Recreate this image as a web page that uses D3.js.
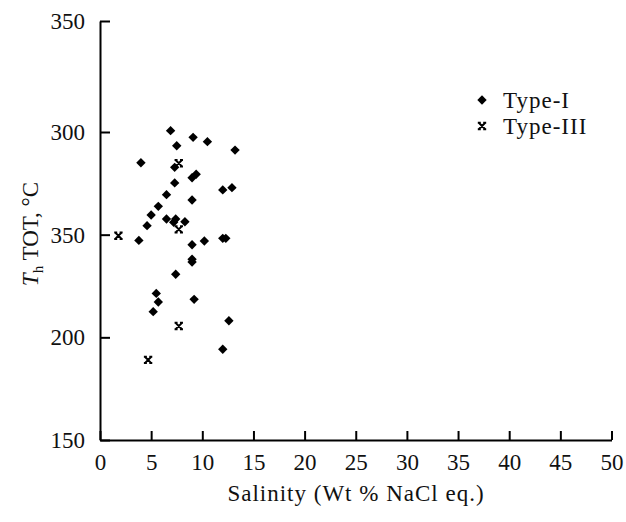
<!DOCTYPE html>
<html>
<head>
<meta charset="utf-8">
<script src="https://cdn.jsdelivr.net/npm/d3@7"></script>
<style>
  html, body { margin: 0; padding: 0; background: #fff; }
  svg text { font-family: 'Liberation Serif', 'Times New Roman', Tinos, 'DejaVu Serif', serif !important; }
</style>
</head>
<body>
<svg id="chart" width="626" height="522"></svg>
<script>
// ---- data ----
const typeISalinity = [6.9, 9.1, 10.5, 7.5, 13.2, 4.0, 7.3, 9.4, 9.0, 7.3, 12.0, 12.9, 6.5, 9.0, 5.7, 5.0, 6.5, 7.4, 7.2, 8.3, 4.6, 3.8, 9.0, 10.2, 12.0, 12.3, 9.0, 9.0, 7.4, 5.5, 5.7, 9.2, 5.2, 12.6, 12.0];
const typeITemp     = [300.6, 297.4, 295.3, 293.3, 291.2, 285.0, 282.8, 279.4, 277.7, 275.2, 271.8, 272.9, 269.5, 266.9, 263.8, 259.6, 257.6, 257.6, 256.0, 256.3, 254.4, 247.2, 245.1, 246.9, 248.2, 248.2, 238.0, 236.7, 230.7, 221.4, 217.2, 218.5, 212.5, 208.1, 194.2];
const typeIIISalinity = [7.7, 7.7, 1.8, 7.7, 4.7];
const typeIIITemp     = [284.8, 252.6, 249.5, 205.5, 189.0];

const xTicks = [0, 5, 10, 15, 20, 25, 30, 35, 40, 45, 50];
const yTicks = [150, 200, 250, 300, 350];
const yTickLabels = ["150", "200", "350", "300", "350"];
const seriesNames = ["Type-I", "Type-III"];

// ---- layout ----
const FONT = "'Liberation Serif', 'Times New Roman', Tinos, 'DejaVu Serif', serif";
const svg = d3.select("#chart");
const x = d3.scaleLinear().domain([0, 50]).range([100, 611.5]);
const y = d3.scaleLinear().domain([150, 300, 350]).range([440, 132, 21]);

const axisColor = "#000";

// y axis
const yAxis = d3.axisLeft(y).tickValues(yTicks)
  .tickFormat((d, i) => yTickLabels[i])
  .tickSizeInner(-10).tickSizeOuter(0).tickPadding(15);
const gy = svg.append("g").attr("transform", "translate(100,0)").call(yAxis)
  .attr("font-family", FONT).attr("font-size", 23);
gy.select(".domain").attr("stroke", axisColor).attr("stroke-width", 2);
gy.selectAll(".tick line").attr("stroke", axisColor).attr("stroke-width", 2);
gy.selectAll(".tick text").attr("fill", "#111");

// x axis
const xAxis = d3.axisBottom(x).tickValues(xTicks)
  .tickSizeInner(-9).tickSizeOuter(0).tickPadding(14);
const gx = svg.append("g").attr("transform", "translate(0,440)").call(xAxis)
  .attr("font-family", FONT).attr("font-size", 23);
gx.select(".domain").attr("stroke", axisColor).attr("stroke-width", 2);
gx.selectAll(".tick line").attr("stroke", axisColor).attr("stroke-width", 2);
gx.selectAll(".tick text").attr("fill", "#111");

// axis titles
svg.append("text")
  .attr("x", 356).attr("y", 501)
  .attr("text-anchor", "middle")
  .attr("font-family", FONT).attr("font-size", 23).attr("letter-spacing", 1)
  .attr("fill", "#111")
  .text("Salinity (Wt % NaCl eq.)");

const yt = svg.append("text")
  .attr("transform", "translate(38,234) rotate(-90)")
  .attr("text-anchor", "middle")
  .attr("font-family", FONT).attr("font-size", 23).attr("fill", "#111");
yt.append("tspan").attr("font-style", "italic").text("T");
yt.append("tspan").attr("dy", 5).attr("font-size", 15).text("h");
yt.append("tspan").attr("dy", -5).text(" TOT, °C");

// markers
const diamond = d3.symbol().type(d3.symbolSquare).size(44);
function drawDiamond(g, cx, cy) {
  g.append("path").attr("d", diamond())
    .attr("transform", `translate(${cx},${cy}) rotate(45)`)
    .attr("fill", "#000");
}
function drawCross(g, cx, cy) {
  const r = 3.2;
  g.append("path")
    .attr("d", `M${-r},${-r}L${r},${r}M${-r},${r}L${r},${-r}M${-r-1},${-r}L${-r+2},${-r}M${r-2},${-r}L${r+1},${-r}M${-r-1},${r}L${-r+2},${r}M${r-2},${r}L${r+1},${r}`)
    .attr("transform", `translate(${cx},${cy})`)
    .attr("stroke", "#000").attr("stroke-width", 2).attr("fill", "none");
}

const pts = svg.append("g");
typeISalinity.forEach((s, i) => drawDiamond(pts, x(s), y(typeITemp[i])));
typeIIISalinity.forEach((s, i) => drawCross(pts, x(s), y(typeIIITemp[i])));

// legend
const lg = svg.append("g").attr("font-family", FONT).attr("font-size", 23).attr("letter-spacing", 1);
drawDiamond(lg, 482, 100);
drawCross(lg, 482, 126);
lg.append("text").attr("x", 503).attr("y", 100).attr("dy", "0.35em")
  .attr("fill", "#111").text(seriesNames[0]);
lg.append("text").attr("x", 503).attr("y", 126).attr("dy", "0.35em")
  .attr("fill", "#111").text(seriesNames[1]);
</script>
</body>
</html>
